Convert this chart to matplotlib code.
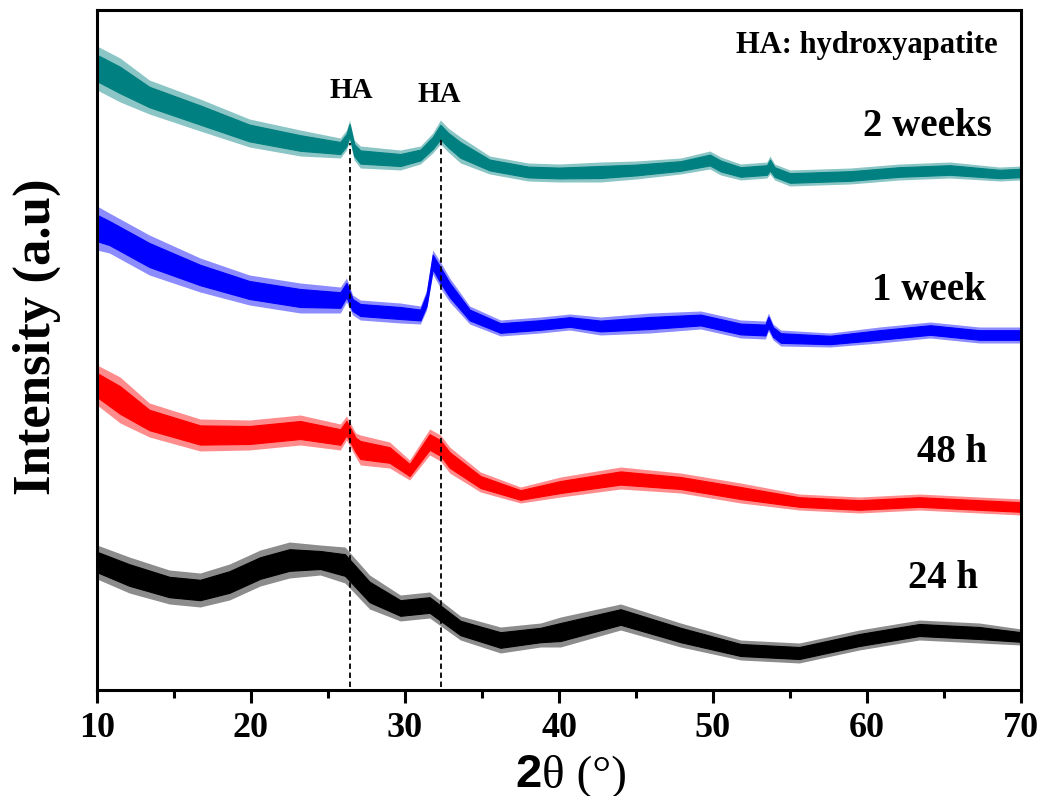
import matplotlib
matplotlib.use("Agg")
import matplotlib.pyplot as plt
import numpy as np

# ---- data (intensity in arbitrary units) ----
deg_2w = [10.0, 11.5, 13.4, 16.7, 19.9, 23.2, 25.8, 26.2, 26.4, 26.7, 27.1, 29.7, 31.0, 31.8,
          32.3, 32.8, 33.6, 35.5, 38.0, 40.0, 42.7, 45.0, 47.9, 49.8, 50.5, 51.8, 53.5, 53.7,
          54.0, 55.0, 58.9, 62.1, 65.4, 68.6, 70.0]
int_2w = [622, 610, 593, 575, 557, 547, 542, 550, 560, 540, 533, 530, 535, 547,
          558, 550, 540, 525, 518, 517, 518, 520, 524, 530, 524, 518, 520, 525,
          518, 512, 514, 518, 520, 516, 517]
noise_2w = [22, 22, 17, 16, 14, 13, 10, 10, 10, 10, 11, 10, 9, 10,
            12, 12, 13, 9, 9, 9, 10, 9, 8, 9, 9, 8, 8, 9,
            8, 8, 8, 8, 8, 7, 7]

deg_1w = [10.0, 10.8, 13.4, 16.7, 19.9, 23.2, 25.8, 26.2, 26.6, 27.1, 29.7, 31.0, 31.4,
          31.8, 32.3, 32.9, 34.2, 36.2, 38.8, 40.7, 42.7, 45.9, 49.2, 51.8, 53.4, 53.6,
          53.9, 54.4, 57.6, 60.8, 64.1, 67.3, 70.0]
int_1w = [462, 457, 435, 415, 400, 392, 390, 400, 385, 380, 377, 375, 390,
          428, 415, 400, 375, 362, 365, 368, 364, 367, 370, 361, 360, 368,
          358, 352, 350, 355, 360, 355, 355]
noise_1w = [22, 20, 20, 17, 15, 15, 13, 12, 10, 10, 10, 9, 10,
            12, 13, 12, 9, 8, 8, 8, 9, 10, 9, 9, 9, 9,
            8, 8, 7, 8, 8, 8, 8]

deg_48h = [10.0, 11.5, 13.4, 16.7, 19.9, 23.2, 25.8, 26.2, 26.8, 27.1, 29.0, 30.3, 31.6,
           32.3, 32.9, 34.9, 37.5, 40.1, 44.0, 47.9, 51.8, 55.6, 59.5, 63.4, 67.3, 70.0]
int_48h = [305, 290, 270, 255, 255, 260, 253, 262, 245, 240, 235, 220, 248,
           242, 230, 208, 195, 203, 212, 207, 197, 188, 185, 188, 185, 183]
noise_48h = [20, 23, 17, 16, 15, 15, 13, 12, 12, 15, 13, 10, 13,
             13, 13, 10, 8, 10, 11, 10, 10, 8, 8, 8, 8, 8]

deg_24h = [10.0, 12.1, 14.7, 16.7, 18.6, 20.6, 22.5, 24.5, 26.1, 27.7, 29.7, 31.6,
           33.6, 36.2, 38.8, 40.1, 44.0, 47.9, 51.8, 55.6, 59.5, 63.4, 67.3, 70.0]
int_24h = [128, 115, 103, 100, 108, 122, 130, 130, 125, 98, 82, 85,
           62, 50, 55, 58, 73, 55, 40, 37, 50, 60, 57, 53]
noise_24h = [17, 18, 17, 17, 18, 18, 18, 15, 18, 17, 13, 13,
             12, 13, 12, 15, 13, 12, 10, 10, 10, 10, 10, 8]

series = [
    ("24 h", deg_24h, int_24h, noise_24h, "#000000"),
    ("48 h", deg_48h, int_48h, noise_48h, "#ff0000"),
    ("1 week", deg_1w, int_1w, noise_1w, "#0000ff"),
    ("2 weeks", deg_2w, int_2w, noise_2w, "#008080"),
]

# labels: (text, x, y)
curve_labels = [("2 weeks", 68.1, 563), ("1 week", 67.7, 399), ("48 h", 67.8, 237), ("24 h", 67.2, 112)]
ha_peaks = [26.4, 32.35]
ha_tops = [547, 553]
ha_label_pos = [(26.5, 599), (32.2, 595)]
xticks_major = [10, 20, 30, 40, 50, 60, 70]

serif = "Liberation Serif"

fig = plt.figure(figsize=(10.43, 7.96), dpi=100)
ax = fig.add_axes([97 / 1043, 1 - 690 / 796, (1021 - 97) / 1043, 680 / 796])

for name, d, y, n, c in series:
    d = np.asarray(d); y = np.asarray(y, float); n = np.asarray(n, float)
    ax.fill_between(d, y - n, y + n, color=c, alpha=0.45, lw=0)
    ax.fill_between(d, y - 0.6 * n, y + 0.6 * n, color=c, lw=0.8, edgecolor=c)

ax.vlines(ha_peaks, 3, ha_tops, colors="black", linestyles=(0, (3, 2)), lw=1.3)

for (lx, ly) in ha_label_pos:
    ax.text(lx, ly, "HA", ha="center", va="center", fontsize=21, fontweight="bold", family=serif)
ax.text(68.5, 645, "HA: hydroxyapatite", ha="right", va="center", fontsize=22, fontweight="bold", family=serif)
for t, lx, ly in curve_labels:
    ax.text(lx, ly, t, ha="right", va="center", fontsize=28, fontweight="bold", family=serif)

ax.set_xlim(10, 70)
ax.set_ylim(0, 680)
ax.set_yticks([])
ax.set_xticks(xticks_major)
ax.set_xticks([15, 25, 35, 45, 55, 65], minor=True)
ax.tick_params(axis="x", which="major", length=9.5, width=2.2, direction="out", pad=6)
ax.tick_params(axis="x", which="minor", length=5.5, width=2.2, direction="out")
for lab in ax.get_xticklabels():
    lab.set_fontfamily(serif)
    lab.set_fontweight("bold")
    lab.set_fontsize(26)
for sp in ax.spines.values():
    sp.set_linewidth(2.2)

fig.text(37 / 1043, 1 - 337 / 796, "Intensity (a.u)", rotation=90, ha="center", va="center",
         fontsize=38, fontweight="bold", family=serif)
fig.text(515 / 1043, 1 - 787 / 796, "2", ha="left", va="baseline", fontsize=34,
         fontweight="bold", family="Liberation Sans")
fig.text(542 / 1043, 1 - 787 / 796, "\u03b8 (\u00b0)", ha="left", va="baseline", fontsize=34,
         family=serif)

fig.savefig("out.png", dpi=100, facecolor="white")
